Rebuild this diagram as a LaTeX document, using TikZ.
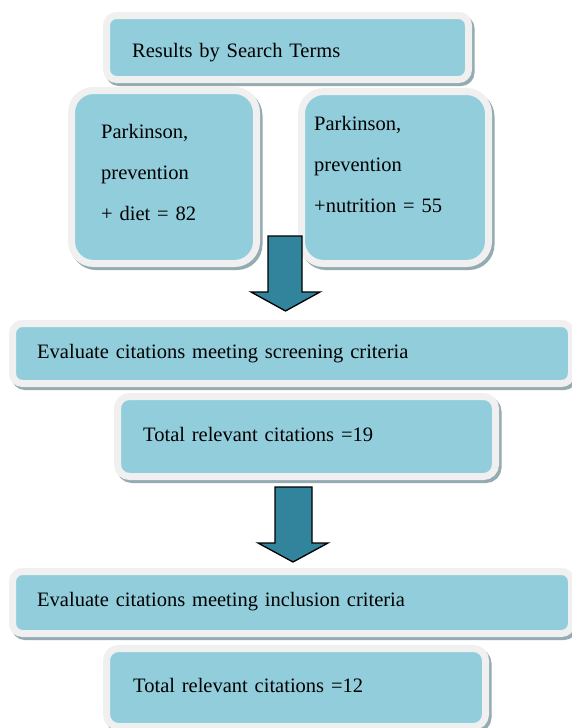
\documentclass[tikz,border=0pt]{standalone}
\usepackage{fontspec}
\setmainfont{Liberation Serif}
\definecolor{boxfill}{HTML}{92CDDC}
\definecolor{boxframe}{HTML}{F0F0F0}
\definecolor{boxshadow}{HTML}{93ABB1}
\definecolor{arrowfill}{HTML}{31849B}
\begin{document}
\begin{tikzpicture}[x=1pt,y=-1pt,
   box/.style={draw=boxframe,line width=7pt,fill=boxfill,rounded corners=#1,inner sep=0pt,
      preaction={draw=boxshadow,fill=boxshadow,line width=7pt,transform canvas={shift={(2.5pt,-3pt)}}}},
   box/.default=10pt,
   txt/.style={anchor=base west,inner sep=0pt,text width=#1,align=left,font=\fontsize{20.5}{41}\selectfont},
   txt/.default=520pt,
   blockarrow/.style={fill=arrowfill,draw=black,line width=1.3pt,line join=miter}]
   \useasboundingbox (0,0) rectangle (572,728);
   \node[box,minimum width=362pt,minimum height=64pt] (results) at (287.5,47.5) {};
   \node[box=22pt,minimum width=185pt,minimum height=173pt] (diet) at (164,177) {};
   \node[box=22pt,minimum width=187pt,minimum height=172pt] (nutrition) at (395,177.5) {};
   \node[box,minimum width=559pt,minimum height=60pt] (screening) at (292,353.5) {};
   \node[box=12pt,minimum width=378pt,minimum height=80pt] (relevantA) at (306.5,436.5) {};
   \node[box,minimum width=559pt,minimum height=62pt] (inclusion) at (292,602.5) {};
   \node[box=12pt,minimum width=379pt,minimum height=78pt] (relevantB) at (296,687.5) {};
   \filldraw[blockarrow] (268,236) -- (302,236) -- (302,292) -- (320,292) -- (285.5,311) -- (251,292) -- (268,292) -- cycle;
   \filldraw[blockarrow] (275,487) -- (312,487) -- (312,543) -- (328,543) -- (293,562) -- (258,543) -- (275,543) -- cycle;
   \node[txt] (resultsText) at (132,57) {Results by Search Terms};
   \node[txt=6cm] (dietText) at (101,138) {Parkinson,\\prevention\\+ diet = 82};
   \node[txt=6cm] (nutritionText) at (314,130) {Parkinson,\\prevention\\+nutrition = 55};
   \node[txt] (screeningText) at (37,358) {Evaluate citations meeting screening criteria};
   \node[txt] (relevantAText) at (143,441) {Total relevant citations =19};
   \node[txt] (inclusionText) at (37,606) {Evaluate citations meeting inclusion criteria};
   \node[txt] (relevantBText) at (133,692) {Total relevant citations =12};
\end{tikzpicture}
\end{document}
